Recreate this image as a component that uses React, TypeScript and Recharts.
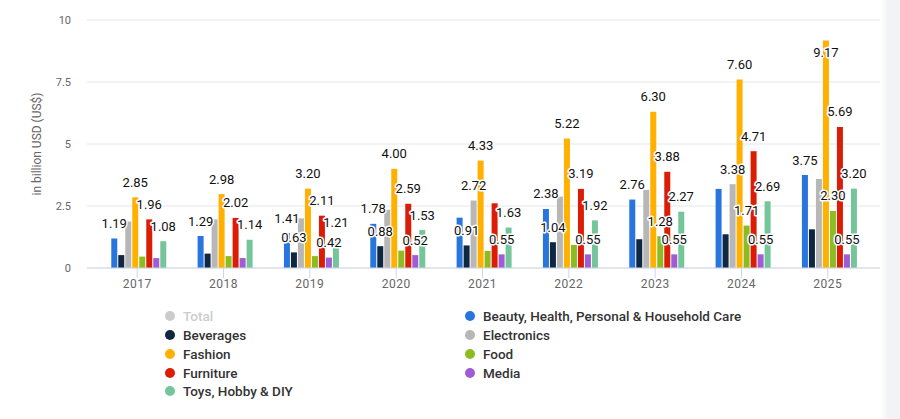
import React from 'react';
import { BarChart, Bar, XAxis, YAxis, CartesianGrid, LabelList } from 'recharts';

const years = ['2017', '2018', '2019', '2020', '2021', '2022', '2023', '2024', '2025'];
const yTicks = [0, 2.5, 5, 7.5, 10];

const beauty = [1.19, 1.29, 1.41, 1.78, 2.03, 2.38, 2.76, 3.19, 3.75];
const beverages = [0.52, 0.58, 0.63, 0.88, 0.91, 1.04, 1.16, 1.36, 1.56];
const electronics = [1.87, 1.96, 2.0, 2.35, 2.72, 2.88, 3.15, 3.38, 3.59];
const fashion = [2.85, 2.98, 3.2, 4.0, 4.33, 5.22, 6.3, 7.6, 9.17];
const food = [0.46, 0.48, 0.48, 0.7, 0.69, 0.93, 1.28, 1.71, 2.3];
const furniture = [1.96, 2.02, 2.11, 2.59, 2.61, 3.19, 3.88, 4.71, 5.69];
const media = [0.4, 0.4, 0.42, 0.52, 0.55, 0.55, 0.55, 0.55, 0.55];
const toys = [1.08, 1.14, 1.21, 1.53, 1.63, 1.92, 2.27, 2.69, 3.2];

// which value labels survive overlap hiding in the original
const beautyShown = [1, 1, 1, 1, 0, 1, 1, 0, 1];
const beveragesShown = [0, 0, 1, 1, 1, 1, 0, 0, 0];
const electronicsShown = [0, 0, 0, 0, 1, 0, 0, 1, 0];
const fashionShown = [1, 1, 1, 1, 1, 1, 1, 1, 1];
const foodShown = [0, 0, 0, 0, 0, 0, 1, 1, 1];
const furnitureShown = [1, 1, 1, 1, 0, 1, 1, 1, 1];
const mediaShown = [0, 0, 1, 1, 1, 1, 1, 1, 1];
const toysShown = [1, 1, 1, 1, 1, 1, 1, 1, 1];

const series = [
  { key: 'beauty', name: 'Beauty, Health, Personal & Household Care', color: '#2876dd', values: beauty, shown: beautyShown },
  { key: 'beverages', name: 'Beverages', color: '#0f2741', values: beverages, shown: beveragesShown },
  { key: 'electronics', name: 'Electronics', color: '#b7b7b7', values: electronics, shown: electronicsShown },
  { key: 'fashion', name: 'Fashion', color: '#ffb000', values: fashion, shown: fashionShown },
  { key: 'food', name: 'Food', color: '#8cbc21', values: food, shown: foodShown },
  { key: 'furniture', name: 'Furniture', color: '#dc1d06', values: furniture, shown: furnitureShown },
  { key: 'media', name: 'Media', color: '#a05dd3', values: media, shown: mediaShown },
  { key: 'toys', name: 'Toys, Hobby & DIY', color: '#74c69a', values: toys, shown: toysShown },
];

const legendItems = [
  { name: 'Total', color: '#cccccc', hidden: true },
  ...series.map(s => ({ name: s.name, color: s.color, hidden: false })),
];

const data = years.map((year, i) => {
  const row: Record<string, string | number> = { year };
  series.forEach(s => {
    row[s.key] = s.values[i];
  });
  return row;
});

const FONT = 'Roboto, "Noto Sans", sans-serif';

const makeLabel = (shown: number[]) => (props: any) => {
  const { x, y, width, value, index } = props;
  if (!shown[index]) return null;
  let ly = Number(y) - 15;
  if (ly < 35) ly = Number(y) + 12;
  return (
    <text
      x={Number(x) + Number(width) / 2}
      y={ly}
      textAnchor="middle"
      dominantBaseline="central"
      fontFamily={FONT}
      fontSize={13}
      fontWeight={400}
      fill="#111111"
      stroke="#ffffff"
      strokeWidth={3}
      strokeLinejoin="round"
      paintOrder="stroke"
    >
      {Number(value).toFixed(2)}
    </text>
  );
};

const LegendBox = () => (
  <div
    style={{
      position: 'absolute',
      left: 0,
      top: 307,
      width: 900,
      display: 'grid',
      gridTemplateColumns: '300px 320px',
      paddingLeft: 165,
      fontFamily: FONT,
      fontSize: 13.5,
      fontWeight: 500,
    }}
  >
    {legendItems.map(item => (
      <div key={item.name} style={{ display: 'flex', alignItems: 'center', height: 18.75 }}>
        <span
          style={{
            width: 10,
            height: 10,
            borderRadius: '50%',
            background: item.color,
            marginRight: 8,
            flexShrink: 0,
          }}
        />
        <span style={{ color: item.hidden ? '#cccccc' : '#333333', whiteSpace: 'nowrap' }}>{item.name}</span>
      </div>
    ))}
  </div>
);

export default function App() {
  return (
    <div style={{ position: 'absolute', left: 0, top: 0, width: 900, height: 419, background: '#fff', overflow: 'hidden' }}>
      <BarChart
        width={900}
        height={419}
        data={data}
        margin={{ top: 20, right: 20, bottom: 121, left: 0 }}
        barCategoryGap="20%"
        barGap={1}
      >
        <CartesianGrid vertical={false} stroke="#e6e6e6" />
        <XAxis
          dataKey="year"
          height={30}
          padding={{ left: 7, right: 9 }}
          axisLine={{ stroke: '#ccd6eb' }}
          tickLine={{ stroke: '#ccd6eb' }}
          tickSize={10}
          tickMargin={1}
          tick={{ fill: '#666666', fontSize: 12, fontFamily: FONT, letterSpacing: 0.5 }}
        />
        <YAxis
          width={87}
          domain={[0, 10]}
          ticks={yTicks}
          axisLine={false}
          tickLine={false}
          tickSize={0}
          tickMargin={16}
          tick={{ fill: '#666666', fontSize: 11, fontFamily: FONT }}
          label={{
            content: () => (
              <text
                x={37}
                y={144}
                transform="rotate(-90 37 144)"
                textAnchor="middle"
                dominantBaseline="central"
                fill="#666666"
                fontSize={12}
                fontFamily={FONT}
              >
                in billion USD (US$)
              </text>
            ),
          }}
        />
        {series.map(s => (
          <Bar key={s.key} dataKey={s.key} name={s.name} fill={s.color} isAnimationActive={false}>
            <LabelList dataKey={s.key} content={makeLabel(s.shown)} />
          </Bar>
        ))}
      </BarChart>
      <LegendBox />
      <div
        style={{
          position: 'absolute',
          right: 0,
          top: 0,
          width: 20,
          height: 419,
          background: 'linear-gradient(to right, rgba(240,242,245,0), #f1f3f6 40%)',
        }}
      />
    </div>
  );
}
